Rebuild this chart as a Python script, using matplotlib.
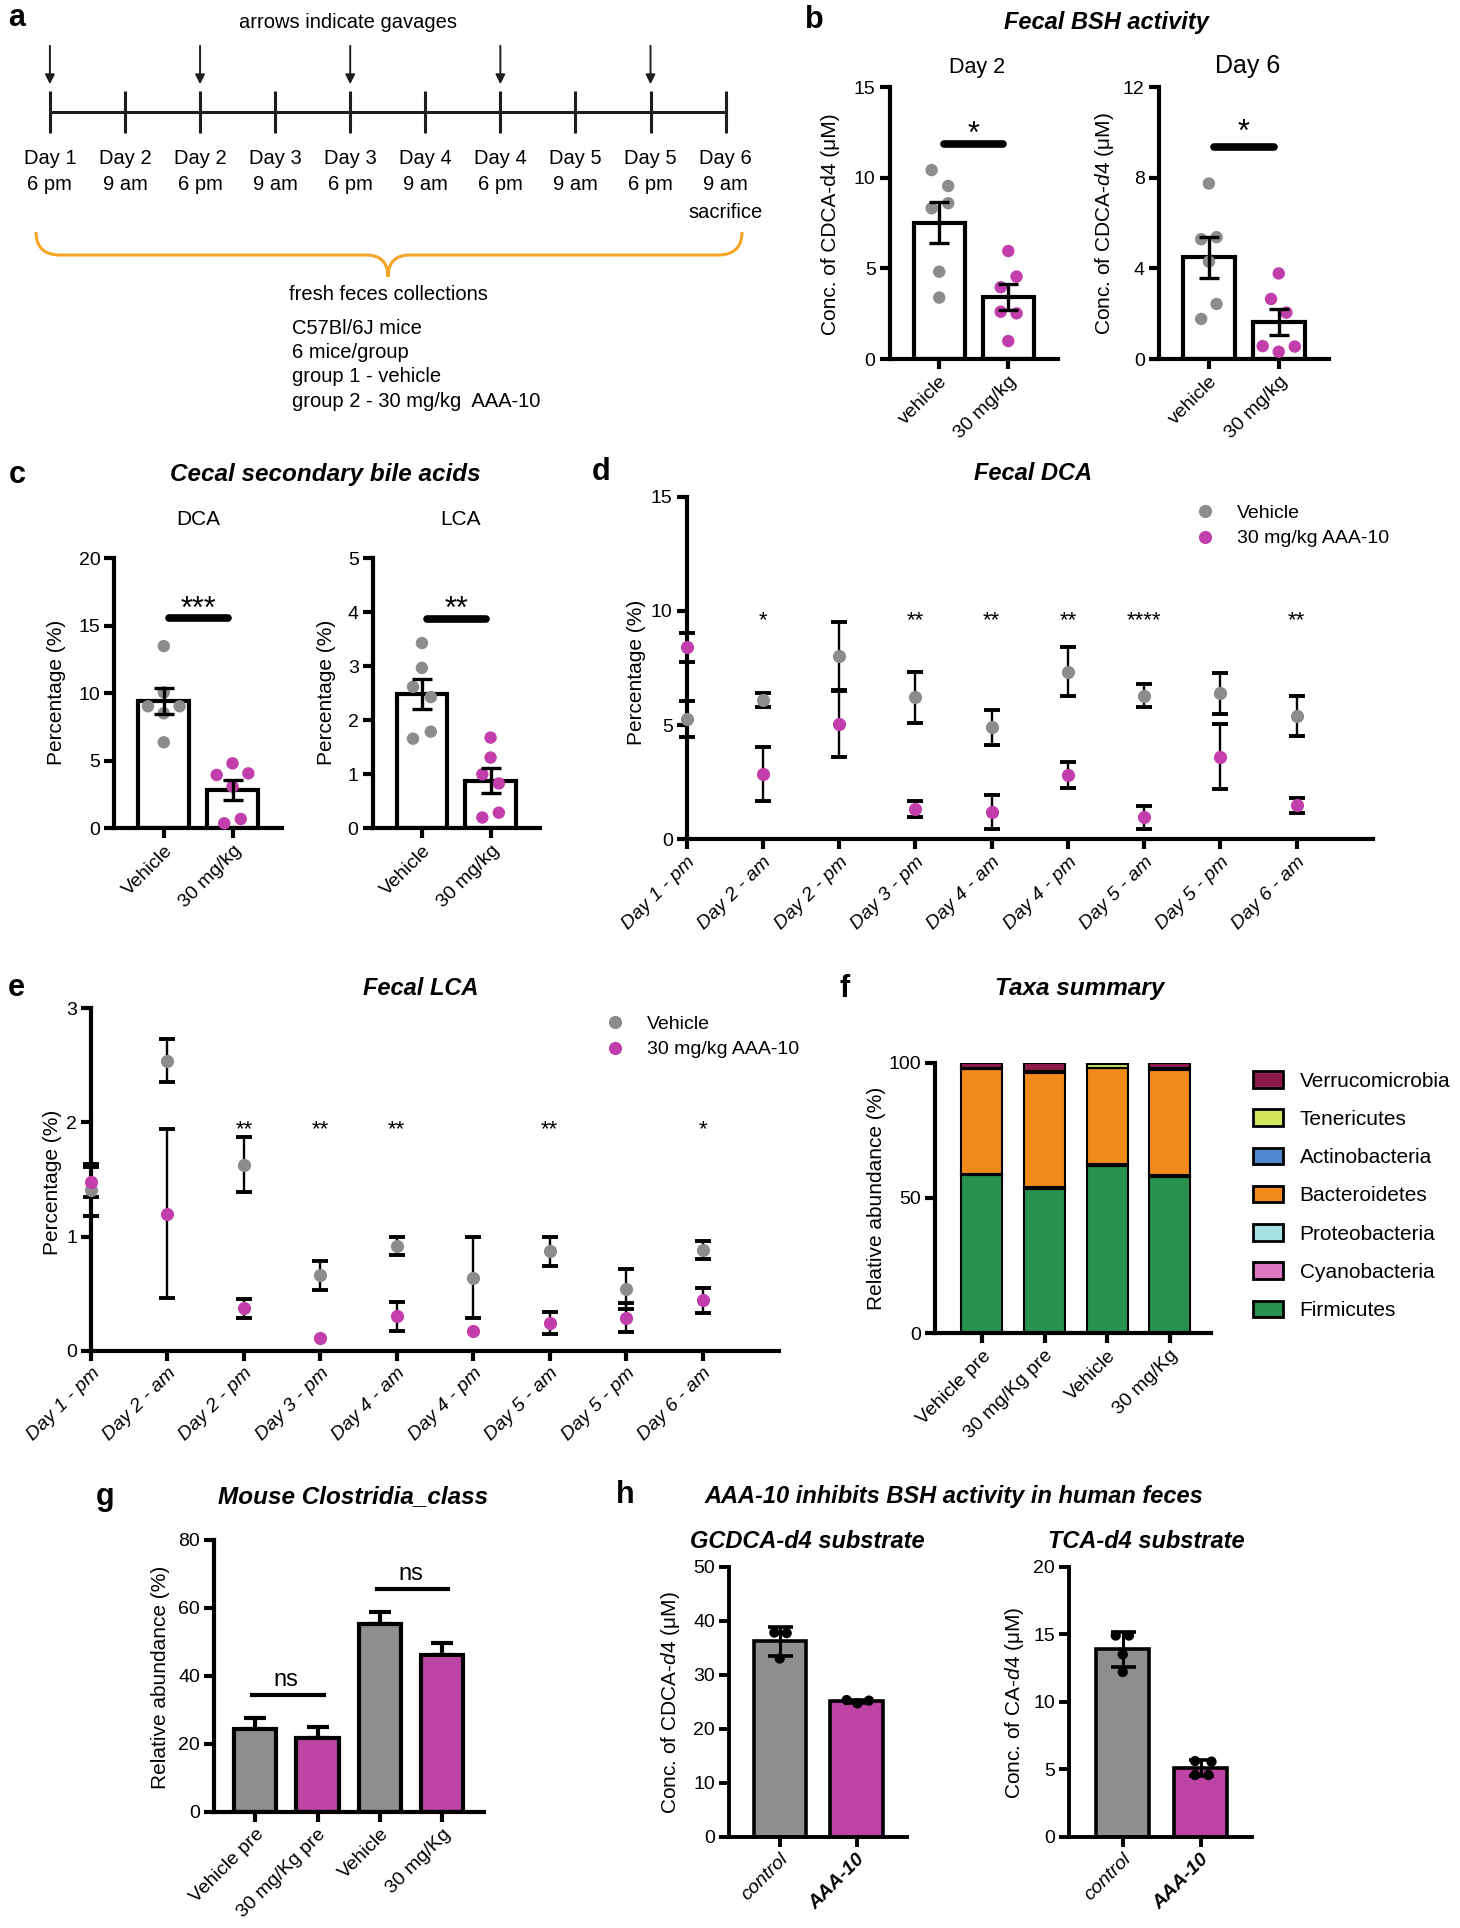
import numpy as np
import matplotlib
matplotlib.use("Agg")
import matplotlib.pyplot as plt
from matplotlib.path import Path
from matplotlib.patches import PathPatch, Patch
from matplotlib.lines import Line2D

plt.rcParams['font.family'] = ['Liberation Sans', 'DejaVu Sans']
plt.rcParams['mathtext.fontset'] = 'custom'
plt.rcParams['mathtext.rm'] = 'Liberation Sans'
plt.rcParams['mathtext.it'] = 'Liberation Sans:italic'
plt.rcParams['mathtext.bf'] = 'Liberation Sans:bold'

#couleurs
GRAY = '#8c8c8c'
MAG = '#c23fab'
BAR_GRAY = '#8e8e8e'
BAR_MAG = '#bd44a5'
ORANGE = '#f5a524'

#----- panel a : design
time_days = ['Day 1', 'Day 2', 'Day 2', 'Day 3', 'Day 3', 'Day 4', 'Day 4', 'Day 5', 'Day 5', 'Day 6']
time_hours = ['6 pm', '9 am', '6 pm', '9 am', '6 pm', '9 am', '6 pm', '9 am', '6 pm', '9 am']
gavage_idx = [0, 2, 4, 6, 8]
design_lines = ['C57Bl/6J mice', '6 mice/group', 'group 1 - vehicle', 'group 2 - 30 mg/kg  AAA-10']

#----- panel b : fecal BSH activity
bsh_groups = ['vehicle', '30 mg/kg']
bsh_d2_veh = [10.43, 9.55, 8.60, 8.32, 4.82, 3.39]
bsh_d2_aaa = [5.96, 4.55, 3.96, 2.61, 2.52, 0.99]
bsh_d6_veh = [7.75, 5.29, 5.38, 4.30, 2.43, 1.77]
bsh_d6_aaa = [3.78, 2.65, 2.05, 0.57, 0.55, 0.32]
jit_d2_veh = [-0.11, 0.13, 0.13, -0.11, 0, 0]
jit_d2_aaa = [0, 0.12, -0.11, -0.11, 0.12, 0]
jit_d6_veh = [0, -0.11, 0.11, 0, 0.11, -0.11]
jit_d6_aaa = [0, -0.11, 0.11, -0.23, 0.23, 0]

#----- panel c : cecal secondary bile acids
cecal_groups = ['Vehicle', '30 mg/kg']
dca_veh = [13.5, 10.07, 9.04, 9.04, 8.52, 6.37]
dca_aaa = [4.81, 3.95, 4.07, 3.09, 0.69, 0.37]
lca_veh = [3.43, 2.97, 2.62, 2.43, 1.79, 1.66]
lca_aaa = [1.68, 1.31, 1.00, 0.83, 0.29, 0.20]
jit_dca_veh = [0, 0, -0.23, 0.23, 0, 0]
jit_dca_aaa = [0, -0.23, 0.23, 0, 0.12, -0.12]
jit_lca_veh = [0, 0, -0.13, 0.13, 0.13, -0.13]
jit_lca_aaa = [0, 0, -0.12, 0.12, 0.12, -0.12]

#----- panels d, e : time course
timepoints = ['Day 1 - pm', 'Day 2 - am', 'Day 2 - pm', 'Day 3 - pm', 'Day 4 - am',
              'Day 4 - pm', 'Day 5 - am', 'Day 5 - pm', 'Day 6 - am']
fdca_veh_mean = [5.28, 6.10, 8.03, 6.22, 4.90, 7.34, 6.29, 6.39, 5.41]
fdca_veh_sem = [0.79, 0.29, 1.50, 1.12, 0.75, 1.06, 0.51, 0.89, 0.88]
fdca_aaa_mean = [8.40, 2.86, 5.05, 1.31, 1.21, 2.82, 0.96, 3.62, 1.50]
fdca_aaa_sem = [0.65, 1.20, 1.46, 0.35, 0.75, 0.58, 0.50, 1.43, 0.33]
fdca_sig = ['', '*', '', '**', '**', '**', '****', '', '**']

flca_veh_mean = [1.41, 2.54, 1.63, 0.66, 0.92, 0.64, 0.87, 0.54, 0.88]
flca_veh_sem = [0.23, 0.19, 0.24, 0.125, 0.08, 0.355, 0.13, 0.174, 0.08]
flca_aaa_mean = [1.48, 1.20, 0.37, 0.11, 0.30, 0.17, 0.245, 0.29, 0.44]
flca_aaa_sem = [0.13, 0.74, 0.085, 0.02, 0.127, 0.03, 0.095, 0.124, 0.113]
flca_sig = ['', '', '**', '**', '**', '', '**', '', '*']

#----- panel f : taxa summary
taxa_groups = ['Vehicle pre', '30 mg/Kg pre', 'Vehicle', '30 mg/Kg']
firmicutes = [58.5, 53.3, 61.9, 57.9]
cyanobacteria = [0.2, 0.3, 0.2, 0.2]
proteobacteria = [0.3, 0.4, 0.3, 0.4]
bacteroidetes = [38.5, 42.3, 35.5, 38.8]
actinobacteria = [0.3, 0.4, 0.3, 0.4]
tenericutes = [0.4, 0.3, 1.3, 0.3]
verrucomicrobia = [1.8, 3.0, 0.5, 2.0]

#----- panel g : clostridia
clost_groups = ['Vehicle pre', '30 mg/Kg pre', 'Vehicle', '30 mg/Kg']
clost_mean = [24.3, 21.8, 55.2, 46.1]
clost_sem = [3.4, 3.2, 3.6, 3.6]

#----- panel h : human feces
h_groups = ['control', 'AAA-10']
gcdca_ctrl = [37.8, 37.7, 33.0]
gcdca_aaa = [25.3, 24.7, 25.2]
tca_ctrl = [14.9, 14.9, 13.5, 12.2]
tca_aaa = [5.6, 5.56, 4.57, 4.57]
jit_gcdca_ctrl = [-0.07, 0.09, 0]
jit_gcdca_aaa = [-0.13, 0.01, 0.16]
jit_tca_ctrl = [-0.09, 0.08, 0, 0]
jit_tca_aaa = [-0.07, 0.14, -0.07, 0.10]

#figure en pixels
W, H = 1460, 1928
fig = plt.figure(figsize=(W / 100, H / 100), dpi=100)


def px_axes(l, t, r, b):
    return fig.add_axes([l / W, 1 - b / H, (r - l) / W, (b - t) / H])


def ftext(x, y, s, **kw):
    kw.setdefault('ha', 'center')
    kw.setdefault('va', 'center')
    fig.text(x / W, 1 - y / H, s, **kw)


def title(x, y, s, fs=17):
    ftext(x, y, s, fontsize=fs, fontweight='bold', fontstyle='italic')


def letter(x, y, s):
    ftext(x, y, s, fontsize=22, fontweight='bold')


def ylab(x, y, s, fs=15):
    ftext(x, y, s, fontsize=fs, rotation=90)


def clean(ax, lw=3.0, fs=14):
    ax.spines['top'].set_visible(False)
    ax.spines['right'].set_visible(False)
    ax.spines['left'].set_linewidth(lw)
    ax.spines['bottom'].set_linewidth(lw)
    ax.tick_params(axis='both', direction='out', length=7, width=lw, labelsize=fs, pad=3)


def mark(ax, x, yc, s, fs, k=0.58):
    #centre du glyphe (astérisques hauts dans la ligne)
    ax.annotate(s, (x, yc), xytext=(0, -k * fs), textcoords='offset points',
                ha='center', va='baseline', fontsize=fs, annotation_clip=False)


#================ panel a
axa = px_axes(0, 0, 760, 420)
axa.set_xlim(0, 760)
axa.set_ylim(420, 0)
axa.axis('off')
tx = 49.9 + (725.6 - 49.9) / (len(time_days) - 1) * np.arange(len(time_days))
axa.hlines(111.7, tx[0], tx[-1], color='#1e1e1e', lw=2.2)
axa.vlines(tx, 90.7, 132.7, color='#1e1e1e', lw=2.2)
for i in gavage_idx:
    axa.annotate('', xy=(tx[i], 87), xytext=(tx[i], 43),
                 arrowprops=dict(arrowstyle='-|>', color='#1e1e1e', lw=1.4, mutation_scale=14))
for x, d, t in zip(tx, time_days, time_hours):
    axa.text(x, 159, d, ha='center', va='center', fontsize=14.5)
    axa.text(x, 184, t, ha='center', va='center', fontsize=14.5)
axa.text(tx[-1], 213, 'sacrifice', ha='center', va='center', fontsize=14.5, clip_on=False)
axa.text(348, 22, 'arrows indicate gavages', ha='center', va='center', fontsize=14.5)
#accolade orange
verts = [(36, 232), (36, 248), (45, 255), (60, 255), (366, 255),
         (380, 255), (388, 262), (388, 277),
         (388, 262), (396, 255), (410, 255), (718, 255),
         (733, 255), (742, 248), (742, 232)]
codes = [Path.MOVETO, Path.CURVE4, Path.CURVE4, Path.CURVE4, Path.LINETO,
         Path.CURVE4, Path.CURVE4, Path.CURVE4,
         Path.CURVE4, Path.CURVE4, Path.CURVE4, Path.LINETO,
         Path.CURVE4, Path.CURVE4, Path.CURVE4]
axa.add_patch(PathPatch(Path(verts, codes), fill=False, edgecolor=ORANGE, lw=2.2))
axa.text(388, 294, 'fresh feces collections', ha='center', va='center', fontsize=14.5)
for k, line in enumerate(design_lines):
    axa.text(292, 328 + 24.5 * k, line, ha='left', va='center', fontsize=14.5)
letter(17, 18, 'a')


#================ panels b, c
def dot_panel(ax, groups, jits, labels, ymax, ystep, sig, sig_y, star_y, star_fs, fs_lab=14.5):
    x = np.arange(len(groups))
    means = [np.mean(g) for g in groups]
    sems = [np.std(g, ddof=1) / np.sqrt(len(g)) for g in groups]
    ax.bar(x, means, width=0.74, color='white', edgecolor='black', linewidth=3, zorder=2)
    for xi, g, j, c in zip(x, groups, jits, [GRAY, MAG]):
        ax.scatter(xi + np.asarray(j), g, s=80, color=c, edgecolors='none', zorder=3, clip_on=False)
    ax.errorbar(x, means, yerr=sems, fmt='none', ecolor='black', elinewidth=2.4,
                capsize=7, capthick=2.4, zorder=4)
    ax.plot([0.07, 0.93], [sig_y, sig_y], color='black', lw=5.5, solid_capstyle='round',
            zorder=4, clip_on=False)
    mark(ax, 0.5, star_y, sig, star_fs)
    ax.set_xlim(-0.72, 1.72)
    ax.set_ylim(0, ymax)
    ax.set_yticks(np.arange(0, ymax + 1e-9, ystep))
    ax.set_xticks(x)
    ax.set_xticklabels(labels, rotation=45, ha='right', rotation_mode='anchor', fontsize=fs_lab)
    clean(ax)


letter(814, 20, 'b')
title(1106, 22, 'Fecal BSH activity')
axb1 = px_axes(889.5, 87.3, 1058, 359)
dot_panel(axb1, [bsh_d2_veh, bsh_d2_aaa], [jit_d2_veh, jit_d2_aaa], bsh_groups, 15, 5, '*', 11.87, 12.9, 22)
axb2 = px_axes(1158.6, 87.3, 1329, 359)
dot_panel(axb2, [bsh_d6_veh, bsh_d6_aaa], [jit_d6_veh, jit_d6_aaa], bsh_groups, 12, 4, '*', 9.38, 10.4, 22)
ftext(977, 67, 'Day 2', fontsize=15.5)
ftext(1248, 66, 'Day 6', fontsize=18)
ylab(831, 224, 'Conc. of CDCA-d4 (μM)')
ylab(1104, 224, r'Conc. of CDCA-$\mathit{d4}$ (μM)')

letter(17, 475, 'c')
title(325, 475, 'Cecal secondary bile acids', fs=17.5)
axc1 = px_axes(114.3, 558.3, 282, 828.3)
dot_panel(axc1, [dca_veh, dca_aaa], [jit_dca_veh, jit_dca_aaa], cecal_groups, 20, 5, '***', 15.56, 16.9, 22, 15)
axc2 = px_axes(372.5, 558.3, 540, 828.3)
dot_panel(axc2, [lca_veh, lca_aaa], [jit_lca_veh, jit_lca_aaa], cecal_groups, 5, 1, '**', 3.88, 4.22, 22, 15)
ftext(198, 520, 'DCA', fontsize=15)
ftext(460, 520, 'LCA', fontsize=15)
ylab(57, 692, 'Percentage (%)')
ylab(327, 692, 'Percentage (%)')


#================ panels d, e
def time_panel(ax, mv, sv, ma, sa, sig, ymax, ystep, sig_y, leg_xy):
    x = np.arange(len(timepoints))
    for m, s, c in [(mv, sv, GRAY), (ma, sa, MAG)]:
        s = np.asarray(s, float)
        s_draw = np.where(s < 0.015 * ymax, np.nan, s)  # caché derrière le symbole
        ax.errorbar(x, m, yerr=s_draw, fmt='none', ecolor='black', elinewidth=1.7,
                    capsize=6, capthick=2.8, zorder=2, clip_on=False)
        ax.plot(x, m, 'o', ms=9.5, color=c, mec='none', zorder=3, clip_on=False)
    for i, s in enumerate(sig):
        if s:
            mark(ax, i, sig_y, s, 16)
    ax.set_xlim(0, 9)
    ax.set_ylim(0, ymax)
    ax.set_yticks(np.arange(0, ymax + 1e-9, ystep))
    ax.set_xticks(x)
    ax.set_xticklabels(timepoints, rotation=45, ha='right', rotation_mode='anchor',
                       fontsize=16, fontstyle='italic')
    clean(ax)
    handles = [Line2D([], [], ls='none', marker='o', ms=9.5, color=GRAY, mec='none', label='Vehicle'),
               Line2D([], [], ls='none', marker='o', ms=9.5, color=MAG, mec='none', label='30 mg/kg AAA-10')]
    ax.legend(handles=handles, loc='upper left', bbox_to_anchor=(leg_xy[0] / W, 1 - leg_xy[1] / H),
              bbox_transform=fig.transFigure, frameon=False, fontsize=14, handlelength=1.0,
              handletextpad=1.15, labelspacing=0.42, borderpad=0, borderaxespad=0)


letter(601, 472, 'd')
title(1033, 473, 'Fecal DCA')
axd = px_axes(686.6, 496.7, 1373, 839.3)
time_panel(axd, fdca_veh_mean, fdca_veh_sem, fdca_aaa_mean, fdca_aaa_sem, fdca_sig, 15, 5, 9.9, (1195, 504))
ylab(636, 672, 'Percentage (%)')

letter(16, 988, 'e')
title(421, 989, 'Fecal LCA')
axe = px_axes(91, 1008.3, 779, 1350.7)
time_panel(axe, flca_veh_mean, flca_veh_sem, flca_aaa_mean, flca_aaa_sem, flca_sig, 3, 1, 2.0, (605, 1015))
ylab(53, 1182, 'Percentage (%)')

#================ panel f
letter(845, 989, 'f')
title(1080, 989, 'Taxa summary', fs=17.5)
axf = px_axes(935, 1062.7, 1211, 1333.3)
phyla = [('Firmicutes', firmicutes, '#27914f'), ('Cyanobacteria', cyanobacteria, '#dd78c6'),
         ('Proteobacteria', proteobacteria, '#a3e1e3'), ('Bacteroidetes', bacteroidetes, '#f28a1a'),
         ('Actinobacteria', actinobacteria, '#4f88cc'), ('Tenericutes', tenericutes, '#d3e65e'),
         ('Verrucomicrobia', verrucomicrobia, '#8e1a4c')]
xf = np.arange(len(taxa_groups))
bottom = np.zeros(len(taxa_groups))
for name, vals, col in phyla:
    axf.bar(xf, vals, bottom=bottom, width=0.655, color=col, edgecolor='black', linewidth=1.5, zorder=2)
    bottom += np.asarray(vals)
axf.set_xlim(-0.75, 3.66)
axf.set_ylim(0, 100)
axf.set_yticks([0, 50, 100])
axf.set_xticks(xf)
axf.set_xticklabels(taxa_groups, rotation=45, ha='right', rotation_mode='anchor', fontsize=15.5)
clean(axf)
leg_handles = [Patch(facecolor=c, edgecolor='black', linewidth=2, label=n) for n, v, c in phyla[::-1]]
axf.legend(handles=leg_handles, loc='upper left', bbox_to_anchor=(1252.7 / W, 1 - 1071 / H),
           bbox_transform=fig.transFigure, frameon=False, fontsize=15, handlelength=1.45,
           handleheight=0.85, handletextpad=0.8, labelspacing=0.9, borderpad=0, borderaxespad=0)
ylab(876, 1198, 'Relative abundance (%)')

#================ panel g
letter(105, 1497, 'g')
title(353, 1497, 'Mouse Clostridia_class', fs=17.5)
axg = px_axes(214, 1540, 484, 1811.7)
xg = np.arange(len(clost_groups))
axg.bar(xg, clost_mean, width=0.68, color=[BAR_GRAY, BAR_MAG, BAR_GRAY, BAR_MAG],
        edgecolor='black', linewidth=3, zorder=2)
axg.errorbar(xg, clost_mean, yerr=[np.zeros(len(clost_sem)), clost_sem], fmt='none',
             ecolor='black', elinewidth=3, capsize=8, capthick=3, zorder=1)
for i0, y_ns in [(0, 34.5), (2, 65.7)]:
    axg.plot([i0 - 0.05, i0 + 1.1], [y_ns, y_ns], color='black', lw=3, zorder=3)
    mark(axg, i0 + 0.5, y_ns + 4.4, 'ns', 17, k=0.27)
axg.set_xlim(-0.66, 3.67)
axg.set_ylim(0, 80)
axg.set_yticks(np.arange(0, 81, 20))
axg.set_xticks(xg)
axg.set_xticklabels(clost_groups, rotation=45, ha='right', rotation_mode='anchor', fontsize=15.5)
clean(axg)
ylab(160, 1677, 'Relative abundance (%)')


#================ panel h
def human_panel(ax, groups, jits, ymax, ystep, xlim):
    x = np.arange(len(groups))
    means = [np.mean(g) for g in groups]
    sds = [np.std(g, ddof=1) for g in groups]
    ax.bar(x, means, width=0.68, color=[BAR_GRAY, BAR_MAG], edgecolor='black', linewidth=2.6, zorder=2)
    for xi, g, j in zip(x, groups, jits):
        ax.scatter(xi + np.asarray(j), g, s=55, color='black', edgecolors='none', zorder=3)
    ax.errorbar(x, means, yerr=sds, fmt='none', ecolor='black', elinewidth=2.2,
                capsize=9, capthick=2.6, zorder=4)
    ax.set_xlim(*xlim)
    ax.set_ylim(0, ymax)
    ax.set_yticks(np.arange(0, ymax + 1e-9, ystep))
    ax.set_xticks(x)
    ax.set_xticklabels(h_groups, rotation=45, ha='right', rotation_mode='anchor', fontsize=16)
    labs = ax.get_xticklabels()
    labs[0].set_fontstyle('italic')
    labs[1].set_fontstyle('italic')
    labs[1].set_fontweight('bold')
    clean(ax, lw=2.8)


letter(625, 1495, 'h')
title(954, 1497, 'AAA-10 inhibits BSH activity in human feces')
title(807, 1541, 'GCDCA-d4 substrate')
title(1146, 1541, 'TCA-d4 substrate')
axh1 = px_axes(729, 1566.7, 907, 1836.7)
human_panel(axh1, [gcdca_ctrl, gcdca_aaa], [jit_gcdca_ctrl, jit_gcdca_aaa], 50, 10, (-0.66, 1.655))
axh2 = px_axes(1069, 1566.7, 1251.6, 1836.7)
human_panel(axh2, [tca_ctrl, tca_aaa], [jit_tca_ctrl, jit_tca_aaa], 20, 5, (-0.69, 1.655))
ylab(671, 1703, r'Conc. of CDCA-$\mathit{d4}$ (μM)')
ylab(1014, 1703, r'Conc. of CA-$\mathit{d4}$ (μM)')

fig.savefig('out.png', dpi=100, facecolor='white')
